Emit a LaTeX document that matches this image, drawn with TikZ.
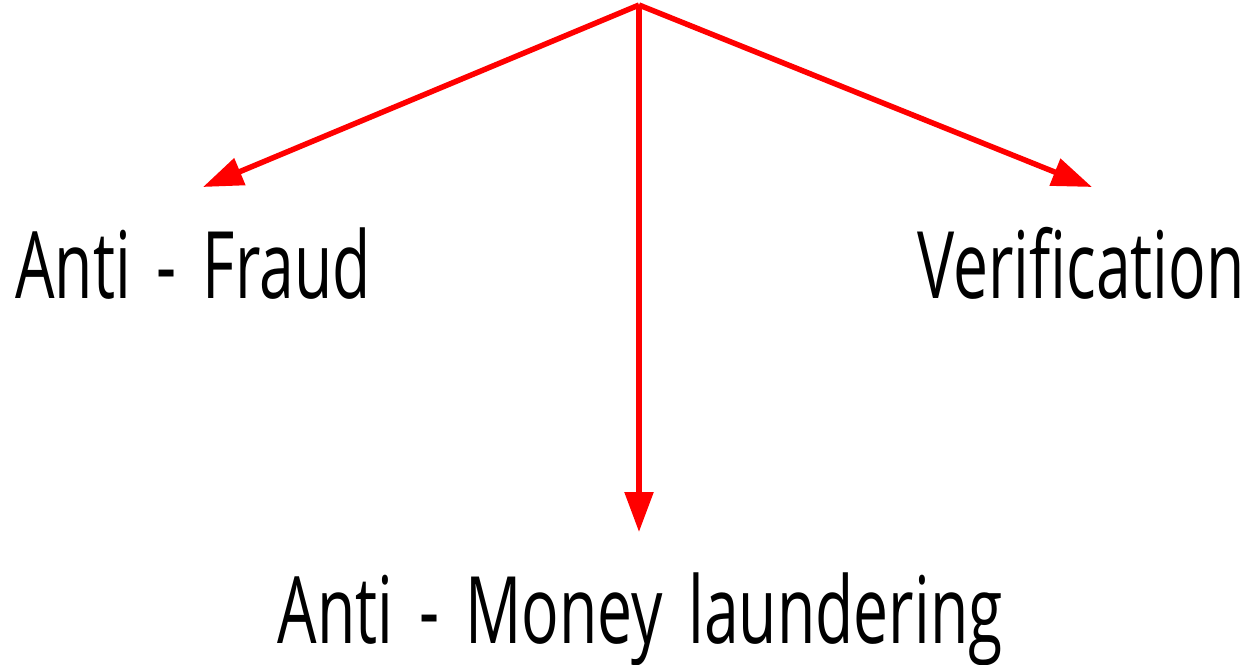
\documentclass[tikz,border=0pt]{standalone}
\usepackage{fontspec}
\usetikzlibrary{arrows.meta}
\newfontfamily\labelfont[FakeStretch=0.67, WordSpace=1.6]{Open Sans}
\definecolor{arrowred}{HTML}{ff0000}

\begin{document}
\begin{tikzpicture}[x=0.02cm, y=-0.02cm,
  branch/.style={draw=arrowred, line width=5.5*0.02cm,
    -{Triangle[length=0.8cm, width=0.56cm]}},
  label/.style={inner sep=0pt, font=\labelfont\fontsize{53}{60}\selectfont}]

% Canvas in pixel units
\useasboundingbox (0,0) rectangle (1255,664);

% Labels
\node[label, anchor=base west] (fraud) at (15,298) {Anti - Fraud};
\node[label, anchor=base east] (verify) at (1245,298) {Verification};
\node[label, anchor=base] (money) at (640,643) {Anti - Money laundering};

% Arrow origin and tips
\coordinate (root) at (639,5);
\coordinate (fraudtip) at (203,187);
\coordinate (verifytip) at (1092,187);
\coordinate (moneytip) at (639,532);

% Arrows
\draw[branch] (root) -- (fraudtip);
\draw[branch] (root) -- (verifytip);
\draw[branch] (root) -- (moneytip);

\end{tikzpicture}
\end{document}
